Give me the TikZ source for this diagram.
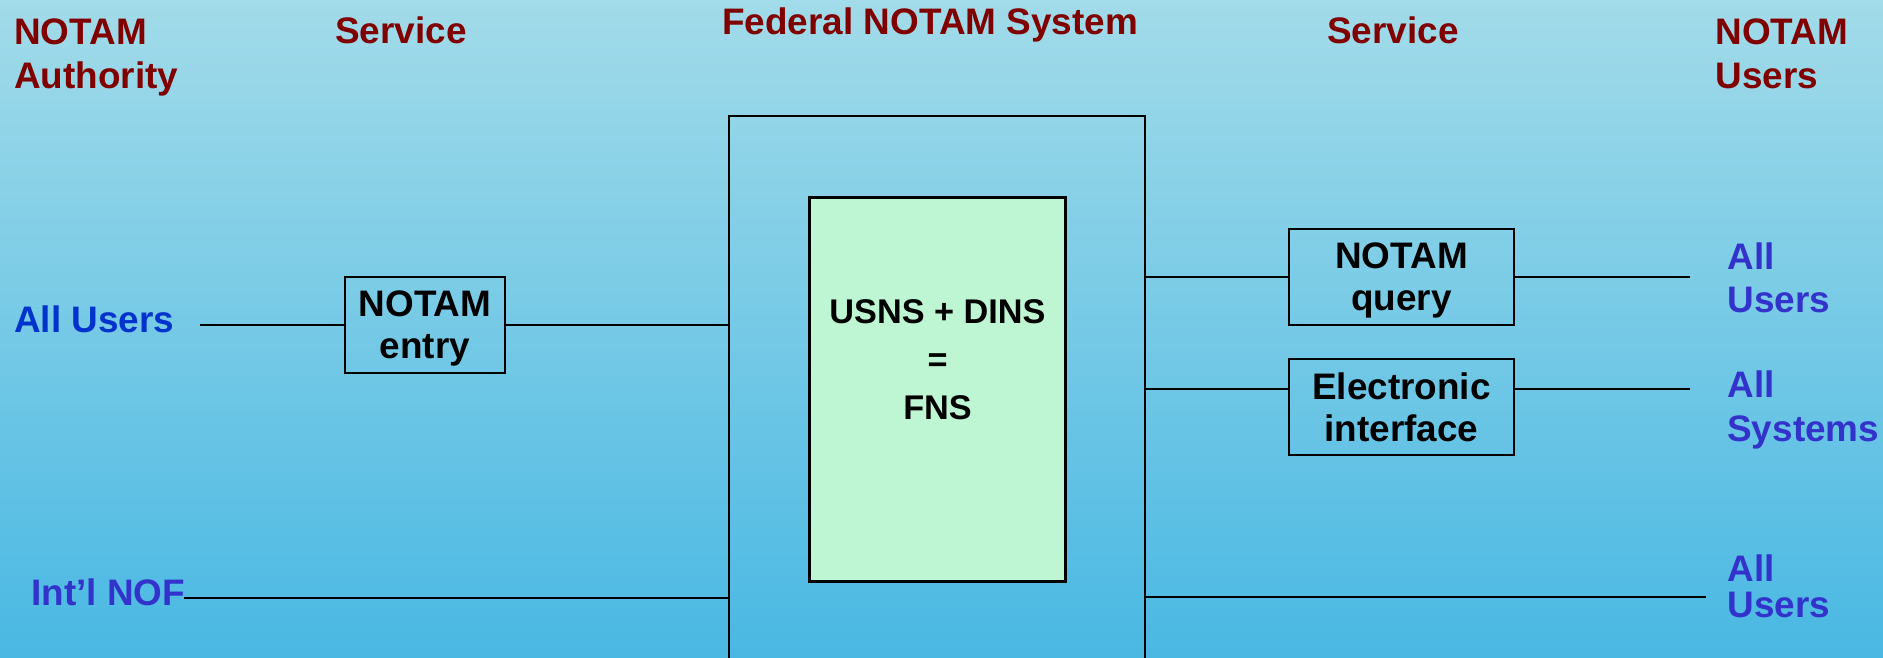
\documentclass[tikz,border=0pt]{standalone}
\usepackage{fontspec}
\setmainfont{Liberation Sans}
\usetikzlibrary{positioning}
\definecolor{HeadRed}{HTML}{800000}
\definecolor{UserBlue}{HTML}{3333CC}
\definecolor{EntryBlue}{HTML}{0033CC}
\definecolor{BgTop}{HTML}{A2DBE9}
\definecolor{BgBottom}{HTML}{49B8E3}
\definecolor{FnsGreen}{HTML}{BEF5D2}

\begin{document}
\begin{tikzpicture}[
    x=0.02cm, y=-0.02cm,
    every node/.style={inner sep=0pt, font=\bfseries\fontsize{21}{25}\selectfont},
    head/.style={text=HeadRed, align=left, anchor=base west, font=\bfseries\fontsize{21}{25.6}\selectfont},
    user/.style={text=UserBlue, align=left, anchor=base west},
    svcbox/.style={draw, line width=1.1pt, align=center, minimum height=1.92cm, text depth=0pt, font=\bfseries\fontsize{21}{24}\selectfont},
    link/.style={line width=1pt}
]
    \shade[top color=BgTop, bottom color=BgBottom] (0,0) rectangle (1883,658);
    \useasboundingbox (0,0) rectangle (1883,658);

    \node[head] (auth) at (14,89) {NOTAM\\Authority};
    \node[head] (svcL) at (335,44) {Service};
    \node[head] (fedsys) at (722,35) {Federal NOTAM System};
    \node[head] (svcR) at (1327,44) {Service};
    \node[head] (users) at (1715,89) {NOTAM\\Users};

    \coordinate (sysBL) at (729,658);
    \coordinate (sysTL) at (729,116);
    \coordinate (sysTR) at (1145,116);
    \coordinate (sysBR) at (1145,658);
    \draw[link] (sysBL) -- (sysTL) -- (sysTR) -- (sysBR);

    \node[draw, line width=1.7pt, fill=FnsGreen, minimum width=5.14cm, minimum height=7.7cm] (fns) at (937.5,389.5) {};
    \node[align=center, font=\bfseries\fontsize{19.5}{27.3}\selectfont] (fnstext) at (937.5,360) {USNS + DINS\\=\\FNS};

    \node[svcbox, minimum width=3.2cm] (entry) at (425,325) {NOTAM\\entry};
    \node[svcbox, minimum width=4.5cm] (query) at (1401.5,277) {NOTAM\\query};
    \node[svcbox, minimum width=4.5cm, below=0.64cm of query] (elec) {Electronic\\interface};

    \node[user, text=EntryBlue] (allL) at (14,333) {All Users};
    \node[user] (nof) at (31,605) {Int’l NOF};
    \node[user] (allR1) at (1727,313) {All\\Users};
    \node[user] (allR2) at (1727,441) {All\\Systems};
    \node[user, font=\bfseries\fontsize{21}{20}\selectfont] (allR3) at (1727,617) {All\\Users};

    \coordinate (allLend) at (200,325);
    \coordinate (nofend) at (184,598);
    \coordinate (qend) at (1690,277);
    \coordinate (elink) at (1145,389);
    \coordinate (eend) at (1690,389);
    \coordinate (bend) at (1706,597);

    \draw[link] (allLend) -- (entry.west);
    \draw[link] (entry.east) -- (entry.east -| sysTL);
    \draw[link] (nofend) -- (nofend -| sysTL);
    \draw[link] (query.west -| sysTR) -- (query.west);
    \draw[link] (query.east) -- (qend);
    \draw[link] (elink) -- (elink -| elec.west);
    \draw[link] (elink -| elec.east) -- (eend);
    \draw[link] (bend -| sysTR) -- (bend);
\end{tikzpicture}
\end{document}
